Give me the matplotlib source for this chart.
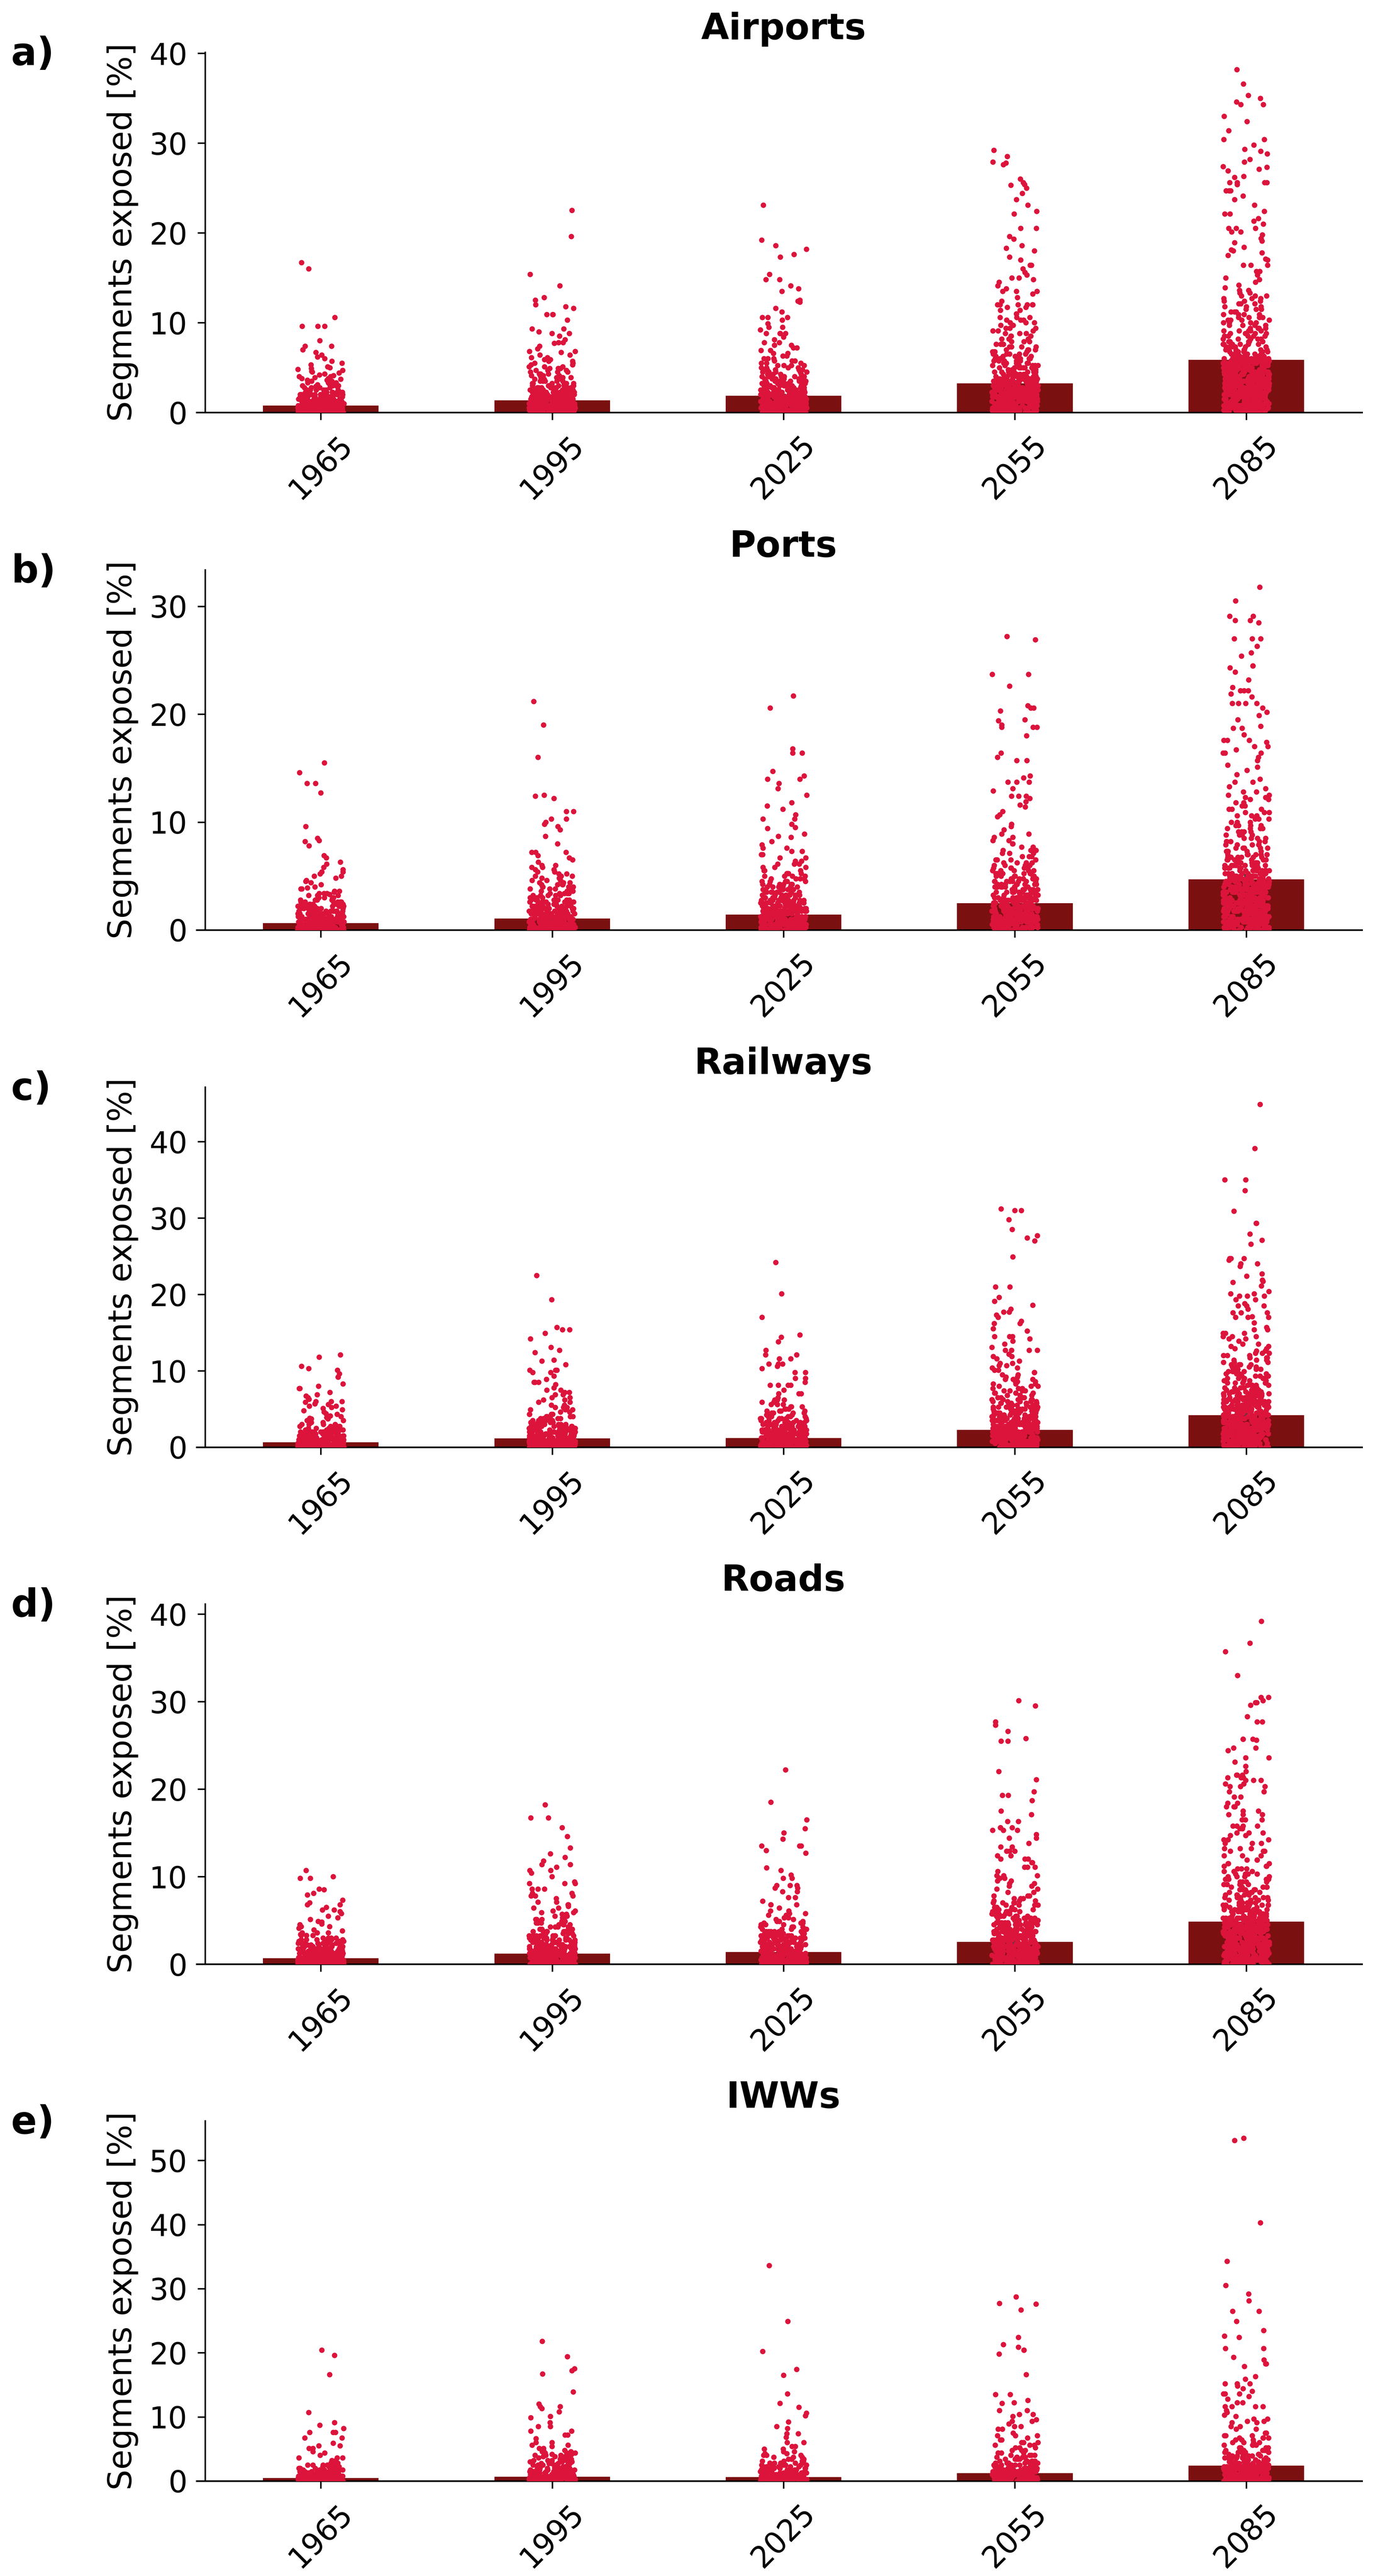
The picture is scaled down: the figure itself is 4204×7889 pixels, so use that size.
import numpy as np
import matplotlib
matplotlib.use('Agg')
import matplotlib.pyplot as plt
from matplotlib.ticker import MultipleLocator

# categories
years = ['1965', '1995', '2025', '2055', '2085']
panel_names = ['Airports', 'Ports', 'Railways', 'Roads', 'IWWs']
panel_letters = ['a)', 'b)', 'c)', 'd)', 'e)']

# bar heights (mean % of segments exposed) and the small error bar half widths
airports_mean = [0.77, 1.35, 1.86, 3.25, 5.87]
ports_mean = [0.65, 1.05, 1.42, 2.49, 4.70]
railways_mean = [0.64, 1.17, 1.20, 2.25, 4.21]
roads_mean = [0.68, 1.20, 1.37, 2.54, 4.84]
iwws_mean = [0.46, 0.65, 0.61, 1.24, 2.41]

airports_err = [0.12, 0.2, 0.25, 0.4, 0.65]
ports_err = [0.1, 0.17, 0.22, 0.35, 0.55]
railways_err = [0.1, 0.17, 0.17, 0.3, 0.5]
roads_err = [0.1, 0.17, 0.2, 0.33, 0.55]
iwws_err = [0.1, 0.13, 0.15, 0.22, 0.4]

airports_pts = [
    "16.7 16.0 10.6 9.6*3 8.0 7.4*2 7.0 6.7 6.4 6.2 6.0 5.7 5.5 5.3 5.1 5.0 4.9 4.8 4.7 4.6 4.5 4.4 4.3 4.2 4.1 "
    "4.0*2 3.9 3.8*2 3.7 3.6*2 3.5*2 3.4 3.3*3 3.2*2 3.1 3.0*3 2.9*2 2.75*4 2.5*6 2.25*10 2.0*14 1.75*16 "
    "1.5*18 1.25*20 1.0*22 0.75*24 0.5*26 0.25*28 0*40",
    "22.5 19.6 15.4 14.1 12.8 12.5 12.0 11.8 11.6 10.9*3 10.3 9.3*2 9.0 8.8*2 8.5 8.1 7.8*2 7.7 7.4 7.1 "
    "6.8*2 6.7 6.4*2 6.1*2 5.9*2 5.7*2 5.5*2 5.3*2 5.1*3 4.9*3 4.7*3 4.5*3 4.3*3 4.1*4 3.9*4 3.7*4 3.5*5 "
    "3.25*6 3.0*7 2.75*9 2.5*11 2.25*13 2.0*16 1.75*18 1.5*20 1.25*20 1.0*22 0.75*22 0.5*24 0.25*24 0*30",
    "23.1 19.2 18.6 18.2 17.6 17.3 15.4 14.8*2 14.1 13.8 13.5 12.5 12.4 12.3 11.6 11.2 10.6*3 10.3 9.9 "
    "9.5*2 9.2 8.8*4 8.4 8.1 7.8*2 7.5*2 7.2*2 6.9*2 6.6*2 6.3*2 6.0*3 5.75*3 5.5*3 5.25*4 5.0*4 4.75*5 "
    "4.5*5 4.25*6 4.0*7 3.75*8 3.5*9 3.25*11 3.0*13 2.75*15 2.5*16 2.25*18 2.0*18 1.75*20 1.5*20 "
    "1.25*20 1.0*20 0.75*20 0.5*20 0.25*20 0*24",
    "29.2 28.5 27.9 27.8 27.6 26.0 25.6 25.4 25.3 25.0 24.4 23.7 23.1 22.4 22.1 20.5*2 19.6 19.3 18.6 "
    "18.3 18.0 17.3 17.0 16.4*2 16.0 15.6 15.3 15.0*2 14.8 14.5 14.1 13.8 13.5*3 13.2 12.8 12.4 12.0*6 "
    "11.7*2 11.4*2 11.0*2 10.6*3 10.3*3 10.0*3 9.7*3 9.4*3 9.1*3 8.8*3 8.5*3 8.2*3 7.9*3 7.6*4 7.3*4 "
    "7.0*4 6.75*4 6.5*5 6.25*5 6.0*5 5.75*5 5.5*6 5.25*6 5.0*7 4.75*7 4.5*8 4.25*9 4.0*16 3.75*17 "
    "3.5*18 3.25*18 3.0*18 2.75*18 2.5*18 2.25*18 2.0*18 1.75*18 1.5*18 1.25*18 1.0*18 0.75*18 0.5*18 "
    "0.25*18 0*20",
    "38.2 36.6 35.3 35.0 34.6 34.3*2 33.0 32.4 31.4 30.4*2 29.8 29.3 29.1 28.8 28.2 27.9 27.4 27.3 27.1 "
    "26.9 26.3 26.2 25.6*4 25.4 24.7*3 24.1 23.7 23.1 22.4 22.1*2 21.6 21.3 21.0 20.5*3 20.1*2 19.8 19.4 "
    "19.1 18.9 18.4 18.1 18.0 17.8 17.5 17.1 17.0 16.4*3 15.7*2 15.3 15.0 14.8 14.5 14.2 13.9 13.6*2 "
    "13.3*2 13.0*3 12.7*3 12.4*3 12.1*3 11.8*3 11.5*3 11.2*3 10.9*4 10.6*4 10.3*4 10.0*4 9.7*4 9.4*4 "
    "9.1*5 8.8*5 8.5*5 8.2*5 7.9*5 7.6*6 7.3*6 7.0*6 6.75*7 6.5*7 6.25*8 6.0*14 5.75*15 5.5*16 5.25*16 "
    "5.0*16 4.75*16 4.5*16 4.25*16 4.0*16 3.75*16 3.5*16 3.25*16 3.0*16 2.75*16 2.5*16 2.25*16 2.0*16 "
    "1.75*16 1.5*16 1.25*16 1.0*16 0.75*16 0.5*16 0.25*16 0*16",
]

ports_pts = [
    "15.5 14.6 13.6*2 12.7 9.6 8.5 8.3 8.2 7.8 6.9 6.7 6.3 6.1 5.8 5.6 5.4*2 5.2 5.0*2 4.8 4.6 4.5 4.4 "
    "4.2 4.0 3.9 3.8*2 3.6*2 3.5 3.4*3 3.3 3.2*3 3.0*4 2.8*5 2.6*6 2.4*7 2.2*8 2.0*10 1.75*14 1.5*18 "
    "1.25*20 1.0*22 0.75*24 0.5*26 0.25*28 0*40",
    "21.2 19.0 16.0 12.5 12.4 12.2 11.0*2 10.3*2 10.0 9.8 9.6 9.3 8.7 8.0 7.2*3 6.9 6.7 6.5 6.3 6.0*2 "
    "5.8*2 5.6*2 5.4*2 5.2*2 5.0*3 4.8*3 4.6*3 4.4*3 4.2*4 4.0*4 3.8*4 3.6*4 3.4*5 3.2*5 3.0*6 2.8*7 "
    "2.6*8 2.4*9 2.2*11 2.0*13 1.75*16 1.5*18 1.25*20 1.0*20 0.75*22 0.5*22 0.25*24 0*30",
    "21.7 20.6 16.8 16.4*2 14.7 14.3 14.0*2 13.6 13.1 12.5 11.8 11.5 11.2 10.7 10.3*2 9.8 9.5 9.4 8.9 "
    "8.7 8.6 8.2 7.9 7.6*2 7.3*2 7.0*2 6.7*2 6.4*2 6.1*3 5.8*3 5.5*3 5.25*4 5.0*4 4.75*4 4.5*5 4.25*6 "
    "4.0*6 3.75*7 3.5*8 3.25*9 3.0*10 2.75*12 2.5*13 2.25*15 2.0*16 1.75*18 1.5*18 1.25*20 1.0*20 "
    "0.75*20 0.5*20 0.25*20 0*24",
    "27.2 26.9 23.7*2 22.6 20.8 20.6*2 20.3 19.5 19.4 19.0 18.8*3 18.0 16.4 16.0 15.7*2 14.3 14.1 13.7*3 "
    "13.1 12.9 12.4*3 12.2 11.9 11.6 11.4 11.0 10.7 10.5 9.8 9.6 9.3 8.9*2 8.6*2 8.3*2 8.0*2 7.7*2 7.4*3 "
    "7.1*3 6.8*3 6.5*4 6.25*4 6.0*4 5.75*5 5.5*5 5.25*6 5.0*6 4.75*7 4.5*8 4.25*8 4.0*9 3.75*10 3.5*11 "
    "3.25*13 3.0*14 2.75*16 2.5*16 2.25*16 2.0*16 1.75*16 1.5*16 1.25*16 1.0*16 0.75*16 0.5*16 "
    "0.25*16 0*18",
    "31.8 30.5 29.1*2 28.7*2 28.5 27.0*3 26.3 25.7 25.4 24.5*2 24.3 23.9 23.2 22.5 22.2*3 21.9 21.6 "
    "21.0*4 20.6 20.2 19.9 19.5 18.9 18.7*2 18.1 17.6*3 17.4 17.0*2 16.7 16.4*3 16.0 15.7 15.3 15.1 14.8 "
    "14.4 14.0 13.7*2 13.3 13.1 12.8*2 12.5*2 12.3*2 12.1*2 11.8*2 11.5*2 11.2*3 10.9*3 10.6*3 10.3*3 "
    "10.0*3 9.7*4 9.4*4 9.1*4 8.8*4 8.5*4 8.2*5 7.9*5 7.6*5 7.3*5 7.0*6 6.75*6 6.5*7 6.25*7 6.0*8 "
    "5.75*9 5.5*10 5.25*11 5.0*12 4.75*13 4.5*14 4.25*14 4.0*15 3.75*15 3.5*15 3.25*15 3.0*15 2.75*15 "
    "2.5*15 2.25*15 2.0*15 1.75*15 1.5*15 1.25*15 1.0*15 0.75*15 0.5*15 0.25*15 0*16",
]

railways_pts = [
    "12.1 11.8 10.6 10.3 10.1 9.6 9.2*2 8.3 8.0 7.7*2 7.2 6.9 6.7 6.5 6.3 6.0*3 5.9 5.7 5.6 5.4*2 5.2 "
    "5.1 4.9 4.8 4.6 4.4 4.3 4.1 4.0 3.9 3.8 3.7*2 3.5*3 3.25*3 3.0*4 2.75*5 2.5*7 2.25*9 2.0*12 1.75*14 "
    "1.5*16 1.25*18 1.0*20 0.75*22 0.5*24 0.25*26 0*40",
    "22.5 19.3 15.7 15.4*2 14.9 14.2 13.1 12.7 12.4 11.4 11.3 10.8 10.1*3 9.8*2 9.3 8.9 8.5*3 8.2 7.8 "
    "7.5*2 7.2*2 6.9*2 6.5*2 6.2*2 5.9*2 5.5*2 5.2*3 4.9*3 4.6*3 4.3*4 4.0*4 3.75*5 3.5*5 3.25*6 3.0*7 "
    "2.75*8 2.5*9 2.25*11 2.0*13 1.75*14 1.5*16 1.25*18 1.0*18 0.75*20 0.5*20 0.25*22 0*30",
    "24.2 20.1 17.0 14.7 14.4 13.8 12.7 12.1*2 11.6*2 10.9*3 10.6 10.3 9.8*2 9.0*2 8.5 8.1*4 7.5 7.0*3 "
    "6.5 6.2*3 5.9*2 5.6*3 5.3*3 5.0*3 4.75*4 4.5*4 4.25*5 4.0*5 3.75*6 3.5*7 3.25*8 3.0*9 2.75*10 "
    "2.5*11 2.25*12 2.0*13 1.75*14 1.5*16 1.25*17 1.0*18 0.75*18 0.5*20 0.25*20 0*28",
    "31.2 31.0*2 29.8 28.5 27.7 27.4 27.0 24.9 21.0*2 19.6 19.1 18.6 18.1 17.7*2 17.3 17.0 16.5 16.2*2 "
    "15.5 15.2 14.5*3 14.2 13.9 13.5 13.1 12.7*4 12.2 11.9*2 11.6 11.3 11.0*2 10.7*2 10.4*2 10.1*2 9.8*2 "
    "9.5*2 9.2*2 8.9*3 8.6*3 8.3*3 8.0*3 7.7*3 7.4*4 7.1*4 6.8*4 6.5*4 6.25*5 6.0*5 5.75*6 5.5*6 5.25*7 "
    "5.0*8 4.75*9 4.5*9 4.25*10 4.0*11 3.75*12 3.5*12 3.25*13 3.0*13 2.75*14 2.5*14 2.25*14 2.0*14 "
    "1.75*14 1.5*14 1.25*14 1.0*14 0.75*14 0.5*14 0.25*14 0*18",
    "44.9 39.1 35.0*2 33.6 30.9 29.3*2 27.9 27.1 26.6 24.7*3 24.5 24.0*2 23.7 22.7 22.4 21.9 21.7 21.6 "
    "21.1 20.4 20.1*2 19.8*3 19.3*2 18.8 18.5*3 18.1 17.6*3 17.1 17.0*3 16.3 15.7 15.4*2 14.9*3 14.5*3 "
    "14.2*2 13.9 13.5*2 13.2*2 12.9*2 12.6*2 12.3*3 12.0*3 11.7*3 11.4*3 11.1*3 10.8*4 10.5*4 10.2*4 "
    "9.9*4 9.6*4 9.3*4 9.0*5 8.7*5 8.4*5 8.1*6 7.8*6 7.5*6 7.25*7 7.0*8 6.75*8 6.5*9 6.25*10 6.0*10 "
    "5.75*11 5.5*11 5.25*11 5.0*12 4.75*12 4.5*12 4.25*12 4.0*13 3.75*13 3.5*13 3.25*13 3.0*13 2.75*13 "
    "2.5*13 2.25*13 2.0*13 1.75*13 1.5*13 1.25*13 1.0*13 0.75*13 0.5*13 0.25*13 0*16",
]

roads_pts = [
    "10.7 10.0 9.8*2 8.6 8.5 8.1 7.9 7.3 7.0 6.8*2 6.5 6.2*2 6.0 5.8 5.5 5.3 5.1 4.9 4.8 4.6 4.5 4.3*2 "
    "4.1 3.9 3.8 3.6*3 3.4 3.3*3 3.0*4 2.8*5 2.6*6 2.4*7 2.2*8 2.0*10 1.75*13 1.5*16 1.25*18 1.0*20 "
    "0.75*22 0.5*24 0.25*26 0*40",
    "18.2 16.7*2 15.6 14.6 13.3 12.6 12.2 11.8 11.4*2 11.1 10.7*2 10.4 10.0 9.4 9.2*3 8.6*3 8.1*2 7.8*3 "
    "7.5 7.1*2 6.8*2 6.6 6.4*2 6.1*2 5.9*2 5.7*2 5.5*2 5.3*2 5.1*3 4.9*3 4.7*3 4.5*4 4.25*4 4.0*5 "
    "3.75*6 3.5*7 3.25*8 3.0*9 2.75*10 2.5*11 2.25*13 2.0*14 1.75*16 1.5*18 1.25*18 1.0*20 0.75*20 "
    "0.5*22 0.25*22 0*30",
    "22.2 18.5 16.5 15.5 15.0 14.3 13.5*3 13.0 12.7 11.0 10.7 10.2 9.8*2 9.0*3 8.7*2 8.3*2 7.6*2 7.2 "
    "6.8*3 6.4 6.1*2 5.8*2 5.6*2 5.3*2 5.1*2 4.9*3 4.7*3 4.5*4 4.25*4 4.0*5 3.75*6 3.5*7 3.25*8 3.0*9 "
    "2.75*10 2.5*12 2.25*13 2.0*14 1.75*16 1.5*18 1.25*18 1.0*20 0.75*20 0.5*22 0.25*22 0*28",
    "30.1 29.5 27.7 27.3 26.6 25.8 25.5*2 22.0 21.1 19.7 19.3*2 18.7 17.5 17.1 16.3*2 15.6*3 15.3*3 "
    "14.8 14.4*2 13.8 13.4*2 12.9*3 12.4*2 12.0*3 11.6*2 11.1*3 10.6 10.1*3 9.8*2 9.5*2 9.2*2 8.9*2 "
    "8.6*2 8.2*2 7.8*3 7.5*3 7.25*3 7.0*4 6.75*4 6.5*4 6.25*5 6.0*5 5.75*6 5.5*6 5.25*7 5.0*7 4.75*8 "
    "4.5*9 4.25*10 4.0*11 3.75*12 3.5*13 3.25*14 3.0*14 2.75*15 2.5*15 2.25*15 2.0*15 1.75*15 1.5*15 "
    "1.25*15 1.0*15 0.75*15 0.5*15 0.25*15 0*18",
    "39.2 36.7 35.7 33.0 30.5*2 30.1 29.9*2 29.6 28.3 27.7*2 25.7*3 25.6 24.7*2 24.4 23.6*2 23.1 22.6 "
    "22.0 21.6*3 21.3*3 21.0*3 20.6*2 20.3*3 19.7*2 19.1*2 18.4*2 18.0*3 17.5*2 17.1*3 16.5*3 15.8*4 "
    "15.5*3 15.0*3 14.7*2 14.2*3 13.8*3 13.2*3 12.9*3 12.4*3 11.9*3 11.5*3 11.2*3 10.9*3 10.6*3 10.3*4 "
    "10.0*4 9.7*4 9.4*4 9.1*4 8.8*5 8.5*5 8.2*5 7.9*5 7.6*6 7.3*6 7.0*6 6.75*7 6.5*7 6.25*8 6.0*8 "
    "5.75*9 5.5*10 5.25*11 5.0*12 4.75*12 4.5*12 4.25*13 4.0*13 3.75*13 3.5*14 3.25*14 3.0*14 2.75*14 "
    "2.5*14 2.25*14 2.0*14 1.75*14 1.5*14 1.25*14 1.0*14 0.75*14 0.5*14 0.25*14 0*16",
]

iwws_pts = [
    "20.4 19.6 16.6 10.7 9.1 8.7 8.2 7.6*3 6.7*2 5.9 5.5*2 5.1*2 4.6 4.4 4.0 3.6*3 3.2*2 2.8*3 2.5*4 "
    "2.25*5 2.0*6 1.75*8 1.5*10 1.25*12 1.0*14 0.75*16 0.5*18 0.25*20 0*40",
    "21.8 19.4 17.5 17.2 16.7 13.9 12.0 11.6*2 11.3 10.8 10.1 9.9 9.1 8.5*2 7.8*2 7.2*2 6.6 6.0*2 5.6*2 "
    "5.4 5.1*2 4.8*2 4.6*2 4.4*3 4.2*3 4.0*3 3.8*3 3.6*4 3.4*4 3.2*4 3.0*5 2.75*6 2.5*7 2.25*8 2.0*9 "
    "1.75*10 1.5*12 1.25*14 1.0*14 0.75*16 0.5*18 0.25*20 0*36",
    "33.6 24.9 20.2 17.4 16.5 13.6 12.1 11.5 10.6 10.2 9.2 8.5 8.2 7.4*2 6.8 6.0*2 5.4*2 5.0*2 4.6*2 "
    "4.3*2 4.0*3 3.7*3 3.4*4 3.1*4 2.8*5 2.5*6 2.25*7 2.0*8 1.75*10 1.5*11 1.25*12 1.0*14 0.75*15 "
    "0.5*16 0.25*18 0*36",
    "28.7 27.7 27.6 26.7 22.4 21.3 20.9 20.4*2 19.8 16.6 13.5*2 12.6 12.2 12.1 11.0*2 10.4*2 10.1 9.6 "
    "9.3*2 8.9 8.5*2 8.1*2 7.5 7.1*3 6.7 6.4*2 6.0*3 5.6*3 5.2*3 4.8*3 4.4*4 4.0*4 3.7*5 3.4*5 3.1*6 "
    "2.8*7 2.5*8 2.25*9 2.0*10 1.75*11 1.5*12 1.25*13 1.0*14 0.75*15 0.5*16 0.25*18 0*30",
    "53.5 53.1 40.3 34.3 30.5 29.2 28.1 26.5*2 24.9 23.5 22.6 22.4 20.7*2 19.3 18.9 18.3*2 17.9 16.3 "
    "15.9 15.2*3 14.8 14.4 14.0 13.6*3 13.2 12.8 12.2*2 11.6*4 11.0 10.7 10.3 10.1 9.7*2 9.3*2 9.1*2 "
    "8.5*2 8.1*2 7.5*3 7.1*3 6.7*4 6.4*3 6.0*4 5.6*4 5.2*4 4.8*5 4.5*6 4.2*6 3.9*7 3.6*7 3.3*8 3.0*8 "
    "2.75*9 2.5*9 2.25*10 2.0*10 1.75*11 1.5*12 1.25*12 1.0*13 0.75*14 0.5*15 0.25*16 0*24",
]


def parse_values(text):
    # "v*n" -> n copies of v, plain "v" -> one value
    out = []
    for tok in text.split():
        if '*' in tok:
            v, n = tok.split('*')
            out += [float(v)] * int(n)
        else:
            out.append(float(tok))
    return np.array(out)


all_means = [airports_mean, ports_mean, railways_mean, roads_mean, iwws_mean]
all_errs = [airports_err, ports_err, railways_err, roads_err, iwws_err]
all_pts = [airports_pts, ports_pts, railways_pts, roads_pts, iwws_pts]

bar_color = '#7b1011'
dot_color = '#dc143c'

W, H = 4204, 7889
fig = plt.figure(figsize=(W / 300, H / 300), dpi=300)
rng = np.random.default_rng(3)

# bottom edge (pixels from top) of each panel
panel_bottoms = [1263, 2848, 4432, 6015, 7598]
ax_left, ax_width, ax_height = 628, 3542, 1103

for k in range(5):
    ax = fig.add_axes([ax_left / W, 1 - panel_bottoms[k] / H, ax_width / W, ax_height / H])
    xpos = np.arange(len(years))

    ax.bar(xpos, all_means[k], width=0.5, color=bar_color, zorder=1)
    ax.errorbar(xpos, all_means[k], yerr=all_errs[k], fmt='none', ecolor='#424242',
                elinewidth=3.5, capsize=0, zorder=2)

    ymax = 0
    for i in range(len(years)):
        vals = parse_values(all_pts[k][i])
        jit = rng.uniform(-0.1, 0.1, len(vals))
        ax.scatter(xpos[i] + jit, vals, s=16, color=dot_color, linewidths=0, zorder=3)
        ymax = max(ymax, vals.max())

    ax.set_xlim(-0.5, 4.5)
    ax.set_ylim(0, ymax * 1.05)
    ax.yaxis.set_major_locator(MultipleLocator(10))
    ax.set_xticks(xpos)
    ax.set_xticklabels(years, rotation=45)

    for side in ['top', 'right']:
        ax.spines[side].set_visible(False)
    ax.spines['left'].set_linewidth(1.1)
    ax.spines['bottom'].set_linewidth(1.2)
    ax.spines['bottom'].set_bounds(-0.537, 4.5)

    ax.tick_params(axis='both', length=5.5, width=1.1, labelsize=22, pad=7.5)
    ax.set_ylabel('Segments exposed [%]', fontsize=24, labelpad=8)
    ax.set_title(panel_names[k], fontsize=26.5, fontweight='bold', pad=9.6)
    ax.text(-0.1677, 0.9646, panel_letters[k], transform=ax.transAxes,
            fontsize=28, fontweight='bold', ha='left', va='baseline')

fig.savefig('out.png', dpi=300)
